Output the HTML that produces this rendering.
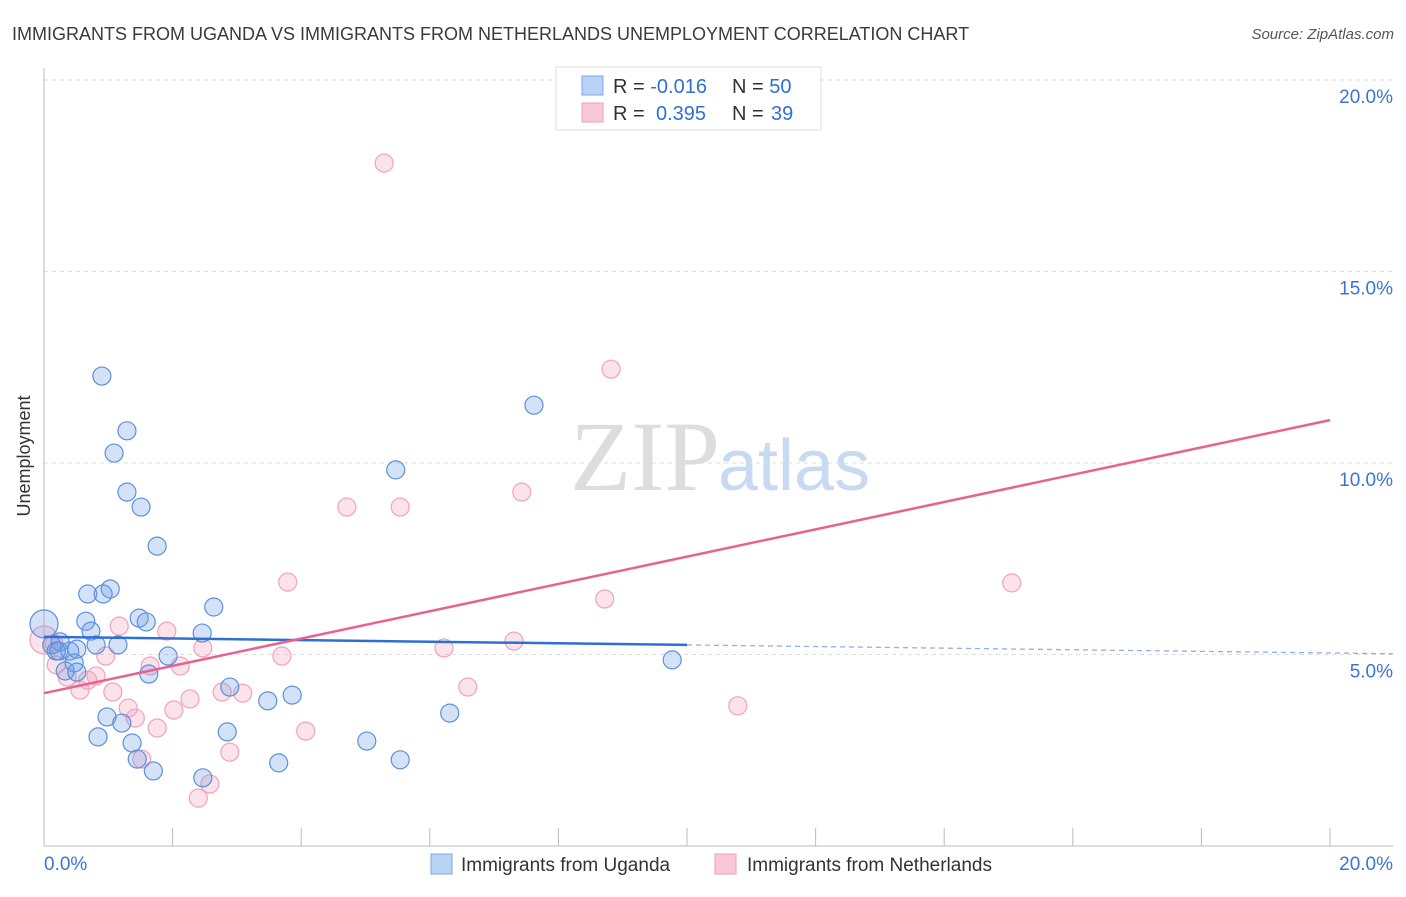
<!DOCTYPE html>
<html><head><meta charset="utf-8"><style>
body{margin:0;background:#fff;font-family:"Liberation Sans",sans-serif}
</style></head><body>
<svg width="1406" height="892" xmlns="http://www.w3.org/2000/svg" font-family="Liberation Sans, sans-serif">
<text x="12" y="40" font-size="18" fill="#3a3a3a">IMMIGRANTS FROM UGANDA VS IMMIGRANTS FROM NETHERLANDS UNEMPLOYMENT CORRELATION CHART</text>
<text x="1394" y="39" font-size="15" fill="#555" font-style="italic" text-anchor="end">Source: ZipAtlas.com</text>
<text x="30" y="456" font-size="18" fill="#333" transform="rotate(-90 30 456)" text-anchor="middle">Unemployment</text>
<text x="720" y="490" font-size="100" fill="#ddd" text-anchor="end" font-family="Liberation Serif, serif">ZIP</text>
<text x="718" y="490" font-size="72" fill="#c8daf2">atlas</text>
<g id="grid"></g><g id="axes"></g><g id="pts"></g><g id="lines"></g>
<g>
<rect x="556" y="67" width="265" height="63" fill="#fff" stroke="#ddd"/>
<rect x="582" y="76" width="21" height="19" fill="#b8d3f5" stroke="#7aa7e6"/>
<rect x="582" y="103" width="21" height="19" fill="#fac8d7" stroke="#ef9fb8"/>
<text x="613" y="93" font-size="20" fill="#333">R = <tspan fill="#2f6fd6">-0.016</tspan></text>
<text x="732" y="93" font-size="20" fill="#333">N = <tspan fill="#2f6fd6">50</tspan></text>
<text x="613" y="120" font-size="20" fill="#333">R = <tspan fill="#2f6fd6" x="656">0.395</tspan></text>
<text x="732" y="120" font-size="20" fill="#333">N = <tspan fill="#2f6fd6" x="771">39</tspan></text>
</g>
<g>
<rect x="431" y="854" width="21" height="20" fill="#b8d3f5" stroke="#7aa7e6"/>
<text x="461" y="871" font-size="19" fill="#333">Immigrants from Uganda</text>
<rect x="715" y="854" width="21" height="20" fill="#fac8d7" stroke="#ef9fb8"/>
<text x="747" y="871" font-size="19" fill="#333">Immigrants from Netherlands</text>
</g>
</svg>
<script>
const yTicks=[5,10,15,20];
const yTickLabels=["5.0%","10.0%","15.0%","20.0%"];
const xTickLabels=["0.0%","20.0%"];
const ugandaX=[0.90,1.29,1.09,1.29,1.51,1.76,1.03,0.68,0.92,2.64,0.65,1.48,1.59,0.73,2.46,0.12,0.25,0.40,0.81,1.15,0.51,0.19,1.93,0.47,0.33,0.51,1.63,2.89,3.86,3.48,0.98,1.21,0.84,2.85,1.37,1.45,1.70,2.47,3.65,5.02,5.54,6.31,5.47,7.62,9.77,0.0,0.23];
const ugandaY=[12.27,10.84,10.26,9.24,8.85,7.83,6.71,6.58,6.58,6.24,5.87,5.95,5.85,5.61,5.56,5.25,5.33,5.09,5.25,5.25,5.14,5.09,4.96,4.78,4.57,4.54,4.49,4.15,3.94,3.79,3.37,3.21,2.85,2.98,2.69,2.27,1.96,1.78,2.17,2.74,2.25,3.47,9.82,11.51,4.86,5.80,5.09];
const nethX=[5.29,8.82,7.43,4.71,5.54,3.79,8.72,15.05,1.17,1.91,7.31,2.47,6.22,3.70,0.96,1.65,2.12,0.16,0.19,0.36,0.81,0.68,0.56,1.07,2.77,3.09,2.27,2.02,1.31,1.42,6.59,10.79,1.76,4.07,2.89,1.52,2.58,2.40,0.0];
const nethY=[17.83,12.45,9.24,8.85,8.85,6.89,6.45,6.87,5.74,5.61,5.35,5.17,5.17,4.96,4.96,4.70,4.70,5.27,4.73,4.41,4.44,4.33,4.07,4.02,4.02,3.99,3.84,3.55,3.60,3.34,4.15,3.66,3.08,3.00,2.45,2.27,1.62,1.25,5.38];
const ugandaTrend=[5.46,5.25];   // y at x=0 and x=10
const nethTrend=[3.99,11.12];    // y at x=0 and x=20
const NS="http://www.w3.org/2000/svg";
const X=v=>44+v*64.3, Y=v=>846-v*38.3;
function mk(p,t,a){const e=document.createElementNS(NS,t);for(const k in a)e.setAttribute(k,a[k]);p.appendChild(e);return e;}
const grid=document.getElementById('grid'),axes=document.getElementById('axes'),pts=document.getElementById('pts'),lines=document.getElementById('lines');
yTicks.forEach((t,i)=>{
 const l=mk(grid,'line',{x1:44,x2:1393,y1:Y(t),y2:Y(t),stroke:'#ddd','stroke-dasharray':'4,4'});
 
 
 const tx=mk(axes,'text',{x:1393,y:Y(t)+23,'font-size':19,fill:'#3b73d6','text-anchor':'end'});
 tx.textContent=yTickLabels[i];
 
 
});
const ax=mk(axes,'line',{x1:44,x2:44,y1:68,y2:846,stroke:'#bbb'});


const bx=mk(axes,'line',{x1:44,x2:1393,y1:846,y2:846,stroke:'#bbb'});


for(let v=0;v<=20;v+=2){
 const tk=mk(axes,'line',{x1:X(v),x2:X(v),y1:828,y2:846,stroke:'#bbb'});
 
 
}
[[0,'start',44],[20,'end',1393]].forEach((d,i)=>{
 const tx=mk(axes,'text',{x:d[2],y:870,'font-size':19,fill:'#3b73d6','text-anchor':d[1]});
 tx.textContent=xTickLabels[i];
 
 
});
function drawPts(xs,ys,fill,stroke,name){
 xs.forEach((x,i)=>{
  const big=(x===0);
  const c=mk(pts,'circle',{cx:X(x),cy:Y(ys[i]),r:big?14:9,fill:fill,stroke:stroke,'stroke-width':1.2});
  
  
 });
}
drawPts(nethX,nethY,'rgba(244,160,190,0.3)','#f0a3bb','point-netherlands');
drawPts(ugandaX,ugandaY,'rgba(110,160,230,0.3)','#5c90dd','point-uganda');
const bl=mk(lines,'line',{x1:X(0),y1:Y(ugandaTrend[0]),x2:X(10),y2:Y(ugandaTrend[1]),stroke:'#2e6fd6','stroke-width':2.5});


const slope=(ugandaTrend[1]-ugandaTrend[0])/10;
const bd=mk(lines,'line',{x1:X(10),y1:Y(ugandaTrend[1]),x2:1393,y2:Y(ugandaTrend[0]+slope*(1393-44)/64.3),stroke:'#8fb0e6','stroke-width':1.3,'stroke-dasharray':'5,4'});


const pl=mk(lines,'line',{x1:X(0),y1:Y(nethTrend[0]),x2:X(20),y2:Y(nethTrend[1]),stroke:'#e8628f','stroke-width':2.5});


</script>
</body></html>
